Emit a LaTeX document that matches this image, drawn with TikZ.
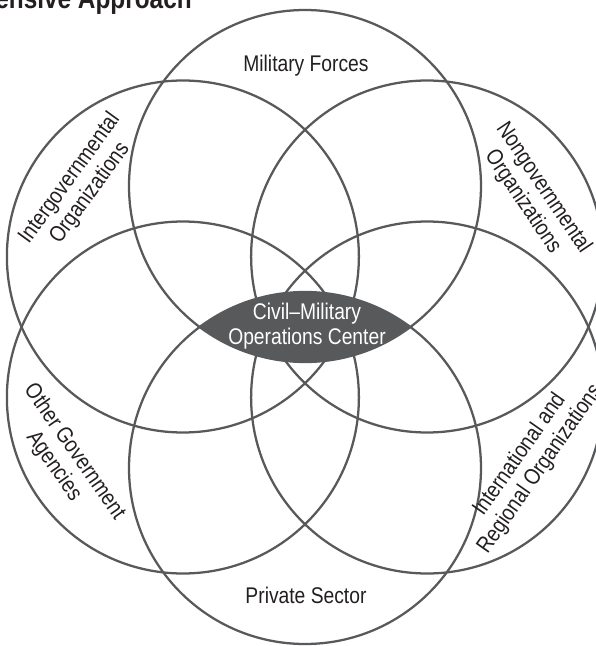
\documentclass[tikz,border=0pt]{standalone}
\usepackage{fontspec}
\setmainfont{Liberation Sans}[FakeStretch=0.85]
\definecolor{ringgray}{HTML}{58595B}
\definecolor{labelink}{HTML}{231F20}
\begin{document}
\begin{tikzpicture}[x=0.75pt,y=0.75pt,
	ring/.style={line width=1.7pt,draw=ringgray},
	lbl/.style={font=\fontsize{17}{18.75}\selectfont,text=labelink,align=center,inner sep=0pt}]
	\useasboundingbox (-305,-319) rectangle (291,327);
	\clip (-305,-319) rectangle (291,327);
	\node[anchor=base east,inner sep=0pt,text=labelink,font=\fontsize{21.5}{24}\selectfont\bfseries] (title) at (-113,318) {Comprehensive Approach};
	\foreach \a in {90,30,-30,-90,-150,150}
		\draw[ring] (\a:141) circle (176);
	\begin{scope}
		\clip (90:141) circle (176);
		\fill[ringgray] (-90:141) circle (176);
	\end{scope}
	\node[lbl,text=white] (cmoc) at (2,1) {Civil–Military\\Operations Center};
	\node[lbl] (mil) at (1,261) {Military Forces};
	\node[lbl] (priv) at (1,-268) {Private Sector};
	\node[lbl,rotate=54] (igo) at (-225,141) {Intergovernmental\\Organizations};
	\node[lbl,rotate=-56] (ngo) at (228,132) {Nongovernmental\\Organizations};
	\node[lbl,rotate=-55] (oga) at (-241,-132) {Other Government\\Agencies};
	\node[lbl,rotate=55] (iro) at (225,-135) {International and\\Regional Organizations};
\end{tikzpicture}
\end{document}
